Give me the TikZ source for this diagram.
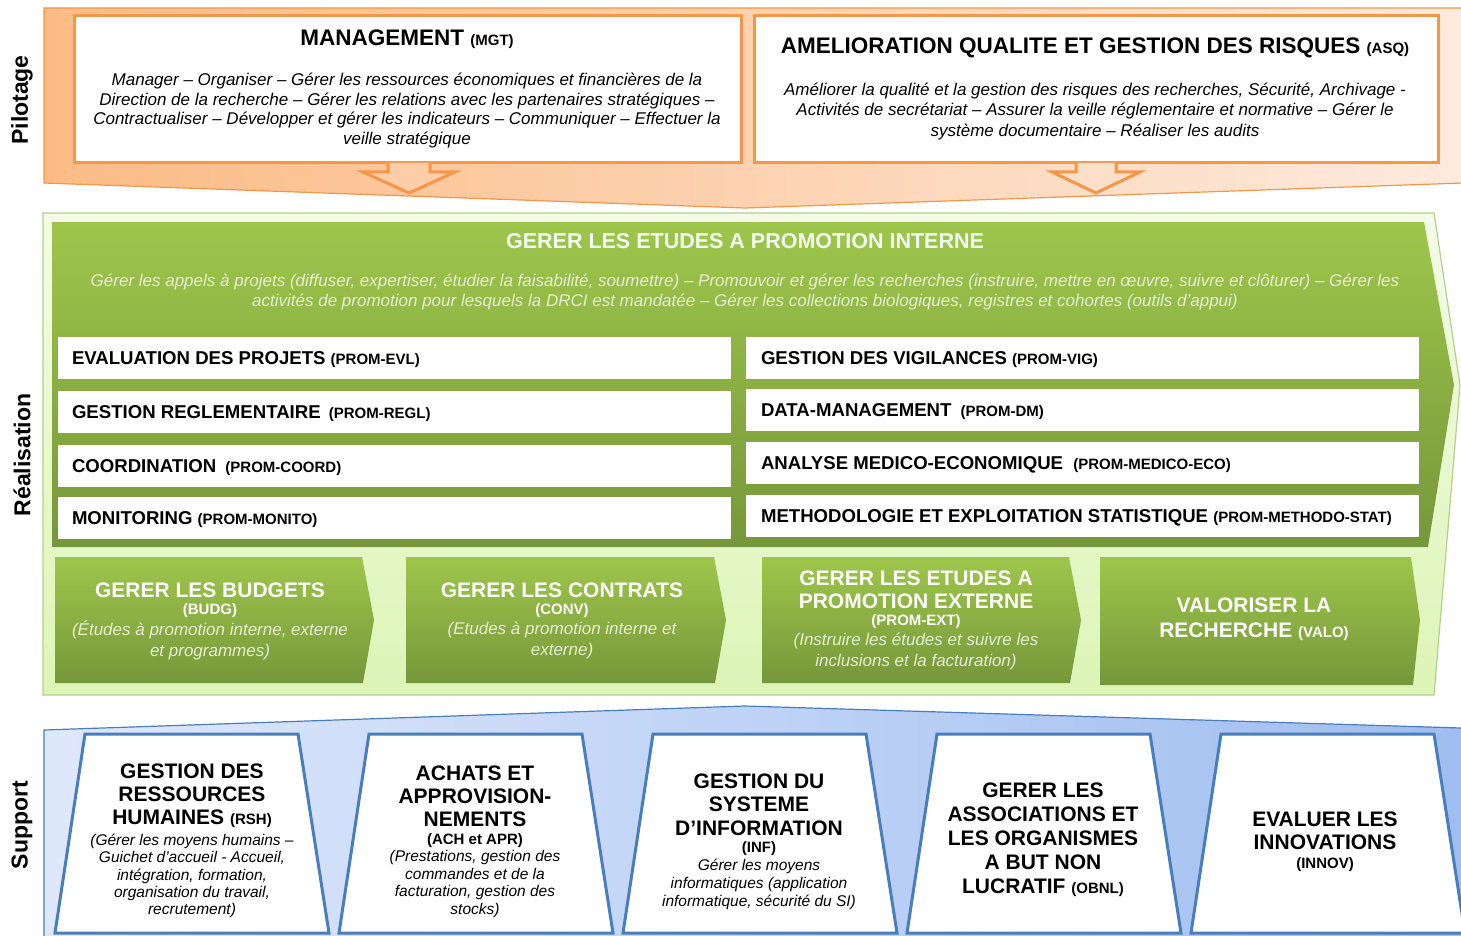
\documentclass[tikz,border=0pt]{standalone}
\usepackage{fontspec}
\setmainfont{Liberation Sans}
\usetikzlibrary{calc}
\definecolor{orangeline}{HTML}{F79646}
\definecolor{orangeL}{HTML}{FBBB85}
\definecolor{orangeR}{HTML}{FEEADE}
\definecolor{arrowA}{HTML}{FCCDA6}
\definecolor{arrowB}{HTML}{FEDFC9}
\definecolor{frameTop}{HTML}{F4FBE9}
\definecolor{frameBot}{HTML}{DCF5B6}
\definecolor{frameLine}{HTML}{B3D18A}
\definecolor{greenTop}{HTML}{9EC64B}
\definecolor{greenBot}{HTML}{76973A}
\definecolor{greenText}{HTML}{E6EFD3}
\definecolor{blueL}{HTML}{DFE8FB}
\definecolor{blueR}{HTML}{9FBDF0}
\definecolor{blueline}{HTML}{4A7EBB}
\newcommand{\fz}[2]{\fontsize{#1}{#2}\selectfont}
\begin{document}
\begin{tikzpicture}[x=1pt,y=-1pt,
  every node/.style={inner sep=0pt,outer sep=0pt},
  bandlabel/.style={rotate=90,font=\fz{23}{26}\bfseries},
  pilotbox/.style={draw=orangeline,line width=3pt,fill=white},
  pilottitle/.style={font=\fz{22.5}{26}\bfseries},
  pilottext/.style={align=center},
  rowbox/.style={fill=white,minimum width=673,minimum height=42},
  rowtext/.style={anchor=base west,font=\fz{18.6}{22}\bfseries},
  gtitle/.style={text=white,font=\fz{21}{23}\bfseries,align=center},
  gsub/.style={text=white,font=\fz{15}{17}\bfseries},
  gital/.style={text=greenText,font=\fz{17}{21}\itshape,align=center},
  supbox/.style={draw=blueline,line width=3pt,fill=white,line join=miter},
  stitle/.style={align=center},
  ssub/.style={font=\fz{15}{17}\bfseries},
  sital/.style={align=center},
]
\useasboundingbox (0,0) rectangle (1461,936);

% ---------- Pilotage band ----------
\path[left color=orangeL,right color=orangeR,draw=orangeline,line width=1.2pt]
  (44,8) -- (1463,8) -- (1463,183) -- (745,208) -- (44,183) -- cycle;
\node[bandlabel] (lblPilot) at (22,100) {Pilotage};

\node[pilotbox,minimum width=667,minimum height=147] (mgt) at (407.5,89.5) {};
\node[pilottitle] (mgtT) at (407,39) {MANAGEMENT {\fz{15}{15}(MGT)}};
\node[pilottext,font=\fz{17}{19.6}\itshape] (mgtB) at (407,110.5)
  {Manager – Organiser – Gérer les ressources économiques et financières de la\\
   Direction de la recherche – Gérer les relations avec les partenaires stratégiques –\\
   Contractualiser – Développer et gérer les indicateurs – Communiquer – Effectuer la\\
   veille stratégique};

\node[pilotbox,minimum width=684,minimum height=147] (asq) at (1096,89.5) {};
\node[pilottitle] (asqT) at (1095,48) {AMELIORATION QUALITE ET GESTION DES RISQUES {\fz{15}{15}(ASQ)}};
\node[pilottext,font=\fz{17}{20.5}\itshape] (asqB) at (1095,111.5)
  {Améliorer la qualité et la gestion des risques des recherches, Sécurité, Archivage -\\
   Activités de secrétariat – Assurer la veille réglementaire et normative – Gérer le\\
   système documentaire – Réaliser les audits};

% down arrows leaving the two steering boxes
\fill[arrowA] ([xshift=-19.5]mgt.south) -- ++(0,9) -- ++(-25,0) -- ++(46,21) -- ++(46,-21) -- ++(-25,0) -- ++(0,-9) -- cycle;
\draw[orangeline,line width=3pt,line join=miter]
  ([xshift=-19.5]mgt.south) -- ++(0,9) -- ++(-25,0) -- ++(46,21) -- ++(46,-21) -- ++(-25,0) -- ++(0,-9);
\fill[arrowB] ([xshift=-20]asq.south) -- ++(0,9) -- ++(-24,0) -- ++(44,21) -- ++(44,-21) -- ++(-24,0) -- ++(0,-9) -- cycle;
\draw[orangeline,line width=3pt,line join=miter]
  ([xshift=-20]asq.south) -- ++(0,9) -- ++(-24,0) -- ++(44,21) -- ++(44,-21) -- ++(-24,0) -- ++(0,-9);

% ---------- Realisation band ----------
\path[top color=frameTop,bottom color=frameBot,draw=frameLine,line width=1.2pt]
  (43,213) -- (1434,213) -- (1460,385) -- (1434,695) -- (43,695) -- cycle;
\node[bandlabel] (lblReal) at (22,455) {Réalisation};

\path[top color=greenTop,bottom color=greenBot]
  (52,222) -- (1424,222) -- (1454,385) -- (1428,547) -- (52,547) -- cycle;
\node[text=white!95!green,font=\fz{21.5}{24}\bfseries] (intT) at (745,241) {GERER LES ETUDES A PROMOTION INTERNE};
\node[gital,font=\fz{17}{20}\itshape] (intB) at (745,292)
  {Gérer les appels à projets (diffuser, expertiser, étudier la faisabilité, soumettre) – Promouvoir et gérer les recherches (instruire, mettre en œuvre, suivre et clôturer) – Gérer les\\
   activités de promotion pour lesquels la DRCI est mandatée – Gérer les collections biologiques, registres et cohortes (outils d’appui)};

% activity rows
\node[rowbox] (r1) at (394.5,358) {};
\node[rowbox] (r2) at (394.5,412) {};
\node[rowbox] (r3) at (394.5,466) {};
\node[rowbox] (r4) at (394.5,518) {};
\node[rowbox] (r5) at (1082.5,358) {};
\node[rowbox] (r6) at (1082.5,410) {};
\node[rowbox] (r7) at (1082.5,463) {};
\node[rowbox] (r8) at (1082.5,516) {};
\node[rowtext] (r1t) at ([xshift=14,yshift=-6.6]r1.west) {EVALUATION DES PROJETS {\fz{15}{15}(PROM-EVL)}};
\node[rowtext] (r2t) at ([xshift=14,yshift=-6.6]r2.west) {GESTION REGLEMENTAIRE \hspace{3pt}{\fz{15}{15}(PROM-REGL)}};
\node[rowtext] (r3t) at ([xshift=14,yshift=-6.6]r3.west) {COORDINATION \hspace{4pt}{\fz{15}{15}(PROM-COORD)}};
\node[rowtext] (r4t) at ([xshift=14,yshift=-6.6]r4.west) {MONITORING {\fz{15}{15}(PROM-MONITO)}};
\node[rowtext] (r5t) at ([xshift=15,yshift=-6.6]r5.west) {GESTION DES VIGILANCES {\fz{15}{15}(PROM-VIG)}};
\node[rowtext] (r6t) at ([xshift=15,yshift=-6.6]r6.west) {DATA-MANAGEMENT \hspace{4pt}{\fz{15}{15}(PROM-DM)}};
\node[rowtext] (r7t) at ([xshift=15,yshift=-6.6]r7.west) {ANALYSE MEDICO-ECONOMIQUE \hspace{5pt}{\fz{15}{15}(PROM-MEDICO-ECO)}};
\node[rowtext] (r8t) at ([xshift=15,yshift=-6.6]r8.west) {METHODOLOGIE ET EXPLOITATION STATISTIQUE {\fz{15}{15}(PROM-METHODO-STAT)}};

% four chevrons along the bottom of the band
\path[top color=greenTop,bottom color=greenBot] (55,557) -- (362,557) -- (374,620) -- (363,683) -- (55,683) -- cycle;
\path[top color=greenTop,bottom color=greenBot] (406,557) -- (714,557) -- (726,620) -- (715,683) -- (406,683) -- cycle;
\path[top color=greenTop,bottom color=greenBot] (762,557) -- (1069,557) -- (1081,620) -- (1070,683) -- (762,683) -- cycle;
\path[top color=greenTop,bottom color=greenBot] (1100,557) -- (1411,557) -- (1420,620) -- (1413,685) -- (1100,685) -- cycle;

\node[gtitle] (budgT) at (210,590) {GERER LES BUDGETS};
\node[gsub] (budgS) at (210,611) {(BUDG)};
\node[gital] (budgI) at (210,640.5) {(Études à promotion interne, externe\\et programmes)};

\node[gtitle] (convT) at (562,590) {GERER LES CONTRATS};
\node[gsub] (convS) at (562,611) {(CONV)};
\node[gital] (convI) at (562,640.5) {(Etudes à promotion interne et\\externe)};

\node[gtitle] (extT) at (916,589.5) {GERER LES ETUDES A\\PROMOTION EXTERNE};
\node[gsub] (extS) at (916,622) {(PROM-EXT)};
\node[gital] (extI) at (916,651.5) {(Instruire les études et suivre les\\inclusions et la facturation)};

\node[gtitle,font=\fz{21}{25}\bfseries] (valoT) at (1254,619.5) {VALORISER LA\\RECHERCHE {\fz{15}{15}(VALO)}};

% ---------- Support band ----------
\path[left color=blueL,right color=blueR] (44,730) -- (745,706) -- (1461,728) -- (1461,936) -- (44,936) -- cycle;
\draw[blueline,line width=1.2pt] (44,936) -- (44,730) -- (745,706) -- (1461,728);
\node[bandlabel] (lblSup) at (22,825) {Support};

\foreach \x in {85,369,653,937,1221}{
  \path[supbox] (\x,734) -- (\x+213,734) -- (\x+244,933) -- (\x-30,933) -- cycle;
}

\node[stitle,font=\fz{21}{23}\bfseries] (rshT) at (192,796) {GESTION DES\\RESSOURCES\\HUMAINES {\fz{15}{15}(RSH)}};
\node[sital,font=\fz{15.5}{17.4}\itshape] (rshI) at (192,876) {(Gérer les moyens humains –\\Guichet d’accueil - Accueil,\\intégration, formation,\\organisation du travail,\\recrutement)};

\node[stitle,font=\fz{21}{23}\bfseries] (achT) at (475,796) {ACHATS ET\\APPROVISION-\\NEMENTS};
\node[ssub] (achS) at (475,841) {(ACH et APR)};
\node[sital,font=\fz{15.5}{17.6}\itshape] (achI) at (475,884) {(Prestations, gestion des\\commandes et de la\\facturation, gestion des\\stocks)};

\node[stitle,font=\fz{21}{23.5}\bfseries] (infT) at (759,804.5) {GESTION DU\\SYSTEME\\D’INFORMATION};
\node[ssub] (infS) at (759,849) {(INF)};
\node[sital,font=\fz{15.5}{18}\itshape] (infI) at (759,884) {Gérer les moyens\\informatiques (application\\informatique, sécurité du SI)};

\node[stitle,font=\fz{21}{24}\bfseries] (obnlT) at (1043,840) {GERER LES\\ASSOCIATIONS ET\\LES ORGANISMES\\A BUT NON\\LUCRATIF {\fz{15}{15}(OBNL)}};

\node[stitle,font=\fz{21}{23}\bfseries] (innovT) at (1325,830.5) {EVALUER LES\\INNOVATIONS};
\node[ssub] (innovS) at (1325,865) {(INNOV)};
\end{tikzpicture}
\end{document}
